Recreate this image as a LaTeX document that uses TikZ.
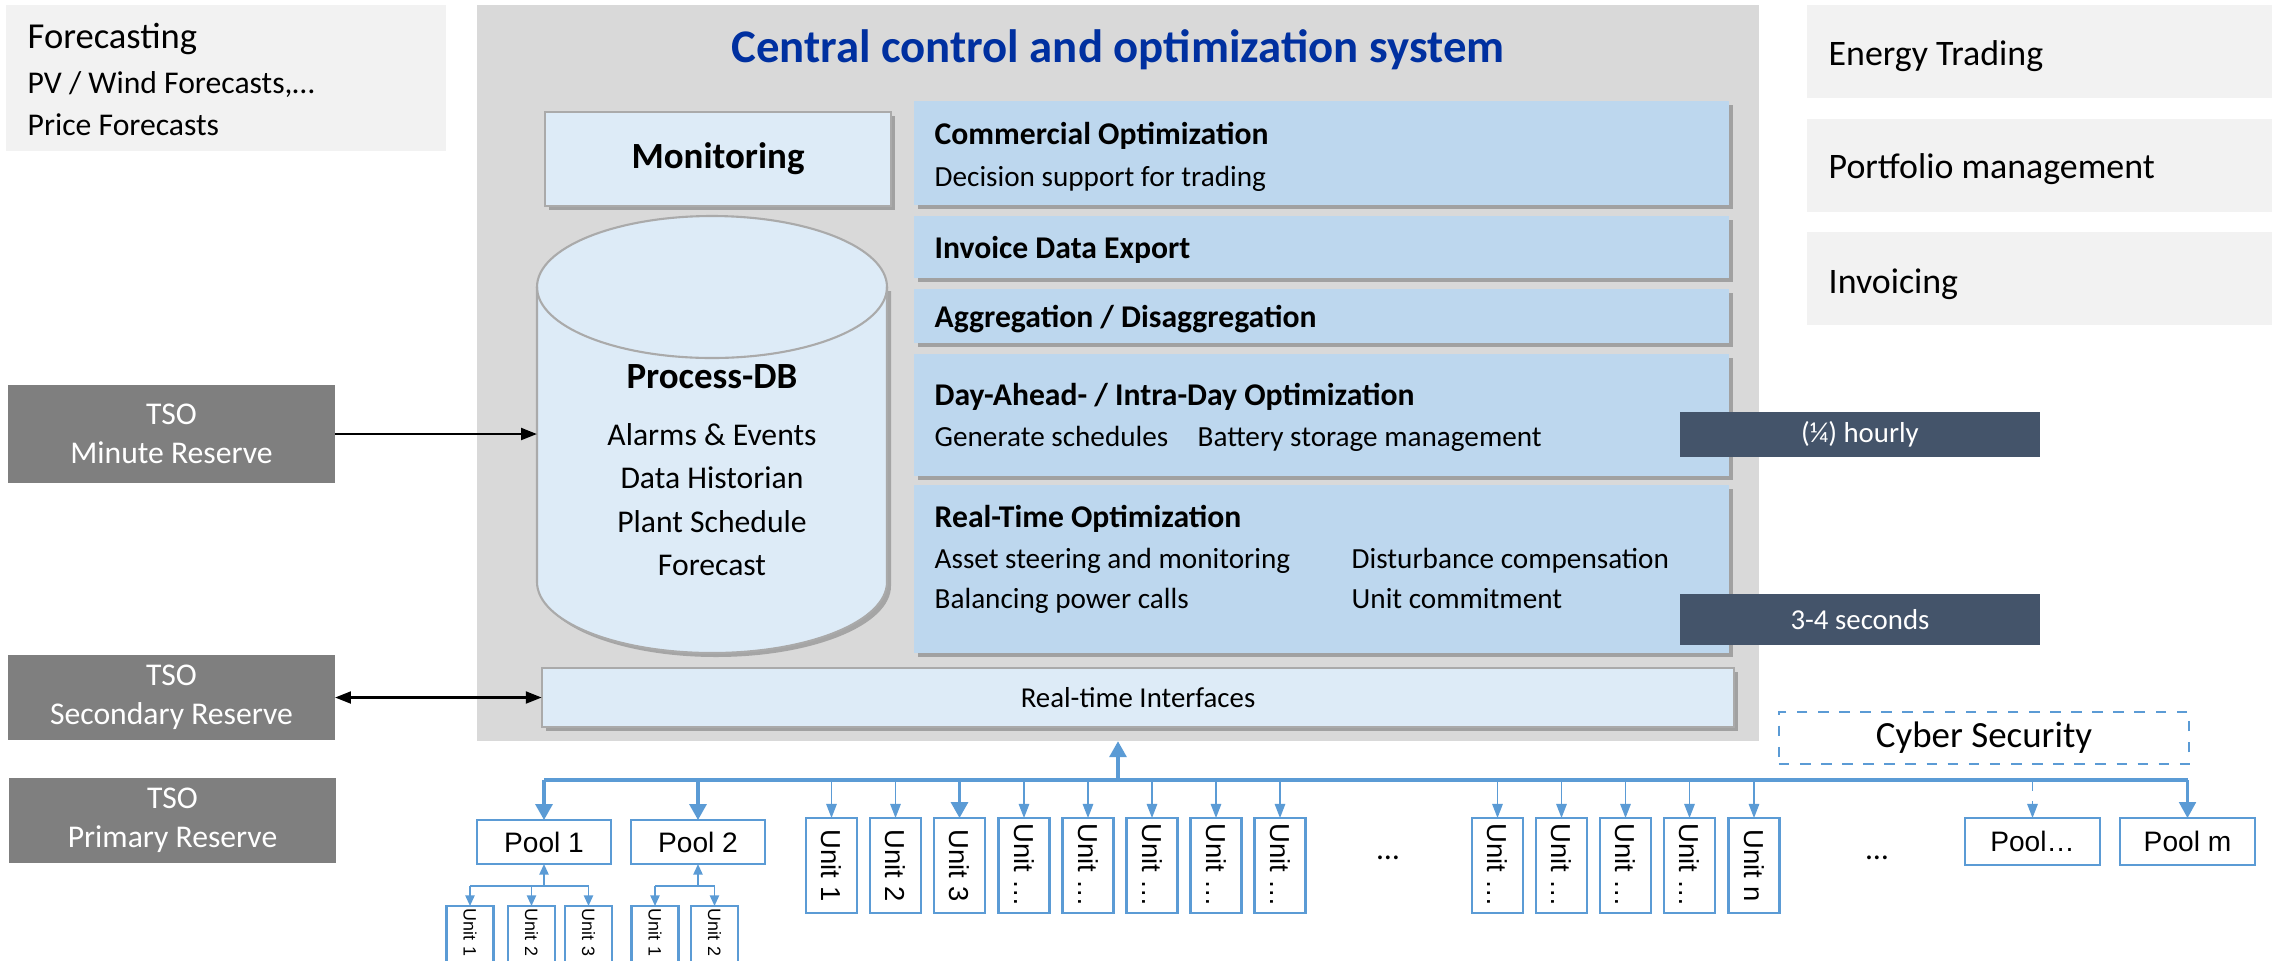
\documentclass[tikz,border=0pt]{standalone}
\usepackage{fontspec}
\setmainfont{Carlito}
\newfontfamily\arialfont{Liberation Sans}
\usetikzlibrary{shapes.geometric, arrows.meta, positioning, shadows}
\usepackage{xcolor}
\definecolor{panelGray}{RGB}{217, 217, 217}
\definecolor{paleGray}{RGB}{242, 242, 242}
\definecolor{paleBlue}{RGB}{221, 235, 247}
\definecolor{midBlue}{RGB}{189, 215, 238}
\definecolor{slateBlue}{RGB}{68, 84, 106}
\definecolor{tsoGray}{RGB}{127, 127, 127}
\definecolor{titleBlue}{RGB}{0, 48, 160}
\definecolor{lineBlue}{RGB}{91, 155, 213}
\definecolor{edgeGray}{RGB}{170, 170, 170}
\newcommand{\txtsize}[1]{\fontsize{#1}{#1}\selectfont}

\begin{document}
\begin{tikzpicture}
    [
        x=0.01cm, y=-0.01cm,
        box/.style={
            rectangle, inner sep=0pt, outer sep=0pt
        },
        shade box/.style={
            box, drop shadow={shadow xshift=1.1pt, shadow yshift=-1.1pt,
            fill=black!55, opacity=.55}
        },
        opt/.style={shade box, fill=midBlue, minimum width=8.15cm},
        side/.style={
            box, fill=paleGray, minimum width=4.65cm, minimum height=0.93cm
        },
        tso/.style={
            box, fill=tsoGray, text=white, minimum width=3.27cm,
            align=center, font=\fontsize{9}{11}\selectfont
        },
        tag/.style={
            box, fill=slateBlue, text=white, minimum width=3.6cm,
            font=\txtsize{8.2}
        },
        optTitle/.style={
            anchor=base west, inner sep=0pt,
            font=\fontsize{9}{11}\selectfont\bfseries
        },
        sub/.style={anchor=base west, inner sep=0pt, font=\txtsize{8.3}},
        pool/.style={
            box, draw=lineBlue, line width=0.6pt, fill=white,
            minimum width=1.34cm, minimum height=0.44cm,
            font=\arialfont\txtsize{8}
        },
        unit/.style={
            box, draw=lineBlue, line width=0.6pt, fill=white, rotate=-90,
            minimum width=0.95cm, minimum height=0.51cm,
            font=\arialfont\txtsize{7.8}
        },
        subunit/.style={
            unit, minimum width=0.8cm, minimum height=0.47cm,
            text width=0.74cm, align=left,
            font=\arialfont\txtsize{5.1}
        },
        bus/.style={lineBlue, line width=0.9pt},
        busarrow/.style={bus, -{Triangle[length=4.5pt, width=4.8pt]}},
        thinarrow/.style={
            lineBlue, line width=0.35pt, -{Triangle[length=4pt, width=3pt]}
        },
        subarrow/.style={
            lineBlue, line width=0.5pt, -{Triangle[length=3pt, width=2.6pt]}
        },
        link/.style={black, line width=0.6pt, -{Triangle[length=4.5pt, width=3.4pt]}},
        link2/.style={link, {Triangle[length=4.5pt, width=3.4pt]}-{Triangle[length=4.5pt, width=3.4pt]}}
    ]

\useasboundingbox (0,0) rectangle (2272,960);

% Central system
\node (ccs) [box, fill=panelGray, minimum width=12.82cm, minimum height=7.36cm] at (1118,373) {};
\node (ccs-title) [anchor=base, inner sep=0pt, text=titleBlue,
        font=\txtsize{13.3}\bfseries] at (1118,62) {Central control and optimization system};

\node (monitoring) [
        shade box, fill=paleBlue, draw=edgeGray, line width=0.6pt,
        minimum width=3.46cm, minimum height=0.94cm, font=\txtsize{10.5}\bfseries
    ] at (718,159) {Monitoring};

% Process-DB cylinder
\fill[black!55, opacity=.5] (541,291) -- (541,586) arc[start angle=180, end angle=0, x radius=175, y radius=71] -- (891,291) -- cycle;
\draw[edgeGray, line width=0.6pt, fill=paleBlue] (537,287) -- (537,582)
    arc[start angle=180, end angle=0, x radius=175, y radius=71] -- (887,287)
    arc[start angle=0, end angle=-180, x radius=175, y radius=71] -- cycle;
\draw[edgeGray, line width=0.6pt] (537,287) arc[start angle=180, end angle=0, x radius=175, y radius=71];
\node (pdb) [box, minimum width=3.5cm, minimum height=4.38cm] at (712,434) {};

\node (pdb-head) [anchor=base, inner sep=0pt, font=\txtsize{10.5}\bfseries] at (712,388) {Process-DB};
\node (pdb-alarms) [anchor=base, inner sep=0pt, font=\txtsize{9}] at (712,445) {Alarms \& Events};
\node (pdb-historian) [anchor=base, inner sep=0pt, font=\txtsize{9}] at (712,488) {Data Historian};
\node (pdb-schedule) [anchor=base, inner sep=0pt, font=\txtsize{9}] at (712,532) {Plant Schedule};
\node (pdb-forecast) [anchor=base, inner sep=0pt, font=\txtsize{9}] at (712,575) {Forecast};

% Optimization boxes
\node (commercial) [opt, minimum height=1.04cm] at (1321.5,153) {};
\node (invoice) [opt, minimum height=0.62cm, below=0.11cm of commercial] {};
\node (aggregation) [opt, minimum height=0.54cm, below=0.11cm of invoice] {};
\node (dayahead) [opt, minimum height=1.22cm, below=0.11cm of aggregation] {};
\node (realtime) [opt, minimum height=1.68cm, below=0.09cm of dayahead] {};

\node (commercial-title) [optTitle] at (934,144) {Commercial Optimization};
\node (commercial-sub) [sub] at (934,186) {Decision support for trading};
\node (invoice-title) [optTitle] at (934,258) {Invoice Data Export};
\node (aggregation-title) [optTitle] at (934,327) {Aggregation / Disaggregation};
\node (dayahead-title) [optTitle] at (934,405) {Day-Ahead- / Intra-Day Optimization};
\node (dayahead-sched) [sub] at (934,446) {Generate schedules};
\node (dayahead-battery) [sub] at (1197,446) {Battery storage management};
\node (realtime-title) [optTitle] at (934,527) {Real-Time Optimization};
\node (realtime-asset) [sub] at (934,568) {Asset steering and monitoring};
\node (realtime-disturb) [sub] at (1351,568) {Disturbance compensation};
\node (realtime-balance) [sub] at (934,608) {Balancing power calls};
\node (realtime-commit) [sub] at (1351,608) {Unit commitment};

\node (hourly) [tag, minimum height=0.45cm] at (1860,434.5) {(¼) hourly};
\node (seconds) [tag, minimum height=0.51cm] at (1860,619.5) {3-4 seconds};

\node (rti) [
        shade box, fill=paleBlue, draw=edgeGray, line width=0.6pt,
        minimum width=11.92cm, minimum height=0.59cm, font=\txtsize{8.2}
    ] at (1138,697.5) {Real-time Interfaces};

% Outside boxes
\node (forecast) [box, fill=paleGray, minimum width=4.40cm, minimum height=1.46cm] at (226,78) {};
\node (forecast-head) [anchor=base west, inner sep=0pt, font=\txtsize{10.4}] at (27,48) {Forecasting};
\node (forecast-pv) [anchor=base west, inner sep=0pt, font=\txtsize{9}] at (27,93) {PV / Wind Forecasts,…};
\node (forecast-price) [anchor=base west, inner sep=0pt, font=\txtsize{9}] at (27,135) {Price Forecasts};

\node (trading) [side] at (2039.5,51.5) {};
\node (portfolio) [side, below=0.21cm of trading] {};
\node (invoicing) [side, below=0.20cm of portfolio] {};
\node (trading-text) [anchor=base west, inner sep=0pt, font=\txtsize{10.2}] at (1828,65) {Energy Trading};
\node (portfolio-text) [anchor=base west, inner sep=0pt, font=\txtsize{10.2}] at (1828,178) {Portfolio management};
\node (invoicing-text) [anchor=base west, inner sep=0pt, font=\txtsize{10.2}] at (1828,293) {Invoicing};

\node (tso-minute) [tso, minimum height=0.98cm] at (171.5,434) {TSO\\Minute Reserve};
\node (tso-secondary) [tso, minimum height=0.85cm] at (171.5,697.5) {TSO\\Secondary Reserve};
\node (tso-primary) [tso, minimum height=0.85cm] at (172.5,820.5) {TSO\\Primary Reserve};

\draw[link] (tso-minute) -- (pdb);
\draw[link2] (tso-secondary) -- (rti);

\node (cyber) [
        box, draw=lineBlue, dashed, line width=0.6pt,
        minimum width=4.10cm, minimum height=0.52cm, font=\txtsize{10.5}
    ] at (1984,738) {Cyber Security};

% Pools and units
\node (pool1) [pool] at (544,842) {Pool 1};
\node (pool2) [pool] at (698,842) {Pool 2};
\node (poolx) [pool, minimum width=1.35cm, minimum height=0.47cm] at (2032.5,841.5) {Pool…};
\node (poolm) [pool, minimum width=1.35cm, minimum height=0.47cm] at (2187.5,841.5) {Pool m};

\node (unit1) [unit] at (831.5,865.5) {Unit 1};
\node (unit2) [unit] at (895.5,865.5) {Unit 2};
\node (unit3) [unit] at (959.5,865.5) {Unit 3};
\node (unit4) [unit] at (1024,865.5) {Unit …};
\node (unit5) [unit] at (1088,865.5) {Unit …};
\node (unit6) [unit] at (1152,865.5) {Unit …};
\node (unit7) [unit] at (1216,865.5) {Unit …};
\node (unit8) [unit] at (1280,865.5) {Unit …};
\node (gap1) [font=\txtsize{9}] at (1388,858) {…};
\node (unit9) [unit] at (1497.5,865.5) {Unit …};
\node (unit10) [unit] at (1561.5,865.5) {Unit …};
\node (unit11) [unit] at (1625.5,865.5) {Unit …};
\node (unit12) [unit] at (1689.5,865.5) {Unit …};
\node (unitn) [unit] at (1754,865.5) {Unit n};
\node (gap2) [font=\txtsize{9}] at (1877,858) {…};

\node (p1u1) [subunit] at (470,946) {Unit 1};
\node (p1u2) [subunit] at (531.5,946) {Unit 2};
\node (p1u3) [subunit] at (588.5,946) {Unit 3};
\node (p2u1) [subunit] at (655,946) {Unit 1};
\node (p2u2) [subunit] at (714.5,946) {Unit 2};

% Field bus
\coordinate (busL) at (544,780);
\coordinate (busR) at (2187.5,780);
\draw[bus] (busL) -- (busR);
\draw[busarrow] (ccs.south |- busL) -- (ccs.south);
\draw[busarrow] (pool1 |- busL) -- (pool1);
\draw[busarrow] (pool2 |- busL) -- (pool2);
\draw[busarrow] (unit3 |- busL) -- (unit3);
\draw[thinarrow] (unit1 |- busL) -- (unit1);
\draw[thinarrow] (unit2 |- busL) -- (unit2);
\draw[thinarrow] (unit4 |- busL) -- (unit4);
\draw[thinarrow] (unit5 |- busL) -- (unit5);
\draw[thinarrow] (unit6 |- busL) -- (unit6);
\draw[thinarrow] (unit7 |- busL) -- (unit7);
\draw[thinarrow] (unit8 |- busL) -- (unit8);
\draw[thinarrow] (unit9 |- busL) -- (unit9);
\draw[thinarrow] (unit10 |- busL) -- (unit10);
\draw[thinarrow] (unit11 |- busL) -- (unit11);
\draw[thinarrow] (unit12 |- busL) -- (unit12);
\draw[thinarrow] (unitn |- busL) -- (unitn);
\draw[thinarrow, dashed] (poolx |- busL) -- (poolx);
\draw[busarrow, line width=0.6pt] (poolm |- busL) -- (poolm);

% Pool buses
\coordinate (sub1) at (544,886);
\coordinate (sub2) at (698,886);
\draw[subarrow] (sub1) -- (pool1);
\draw[lineBlue, line width=0.6pt] (p1u1 |- sub1) -- (p1u3 |- sub1);
\draw[subarrow] (p1u1 |- sub1) -- (p1u1);
\draw[subarrow] (p1u2 |- sub1) -- (p1u2);
\draw[subarrow] (p1u3 |- sub1) -- (p1u3);
\draw[subarrow] (sub2) -- (pool2);
\draw[lineBlue, line width=0.6pt] (p2u1 |- sub2) -- (p2u2 |- sub2);
\draw[subarrow] (p2u1 |- sub2) -- (p2u1);
\draw[subarrow] (p2u2 |- sub2) -- (p2u2);

\end{tikzpicture}
\end{document}
